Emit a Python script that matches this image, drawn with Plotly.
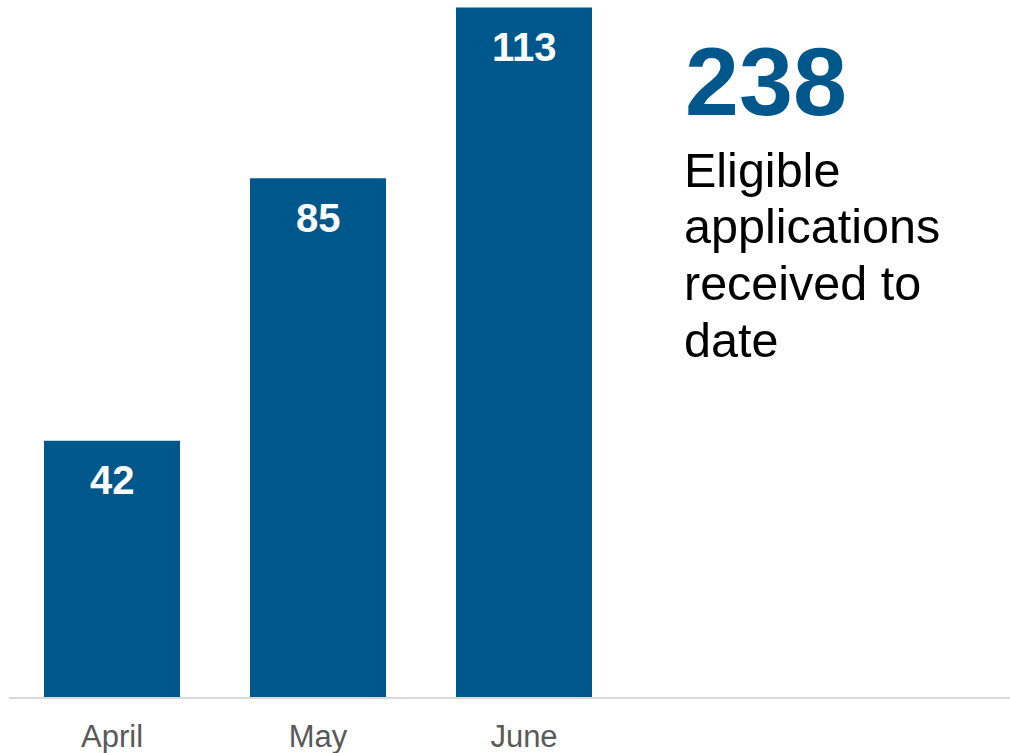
import plotly.graph_objects as go

months = ["April", "May", "June"]
applications = [42, 85, 113]
total_value = "238"
caption_lines = ["Eligible", "applications", "received to", "date"]

BAR_COLOR = "#00578B"
FONT = "Liberation Sans, Arial, sans-serif"

W, H = 1010, 753
ML, MB = 9, 56
PW, PH = W - ML, H - MB
CAT_PX = 206.0
BAR_PX = 136.0

def px_x(p):
    return (p - ML) / PW

def px_y(p):
    return 1 - p / PH

fig = go.Figure()
fig.add_trace(go.Bar(
    x=months, y=applications,
    marker=dict(color=BAR_COLOR, line=dict(width=0)),
    hoverinfo="skip",
))

annotations = []
for m, v in zip(months, applications):
    annotations.append(dict(
        x=m, y=v, xref="x", yref="y", text=f"<b>{v}</b>", showarrow=False,
        xanchor="center", yanchor="middle", yshift=-39.5,
        font=dict(family=FONT, size=40, color="white"),
    ))

annotations.append(dict(
    x=px_x(683), y=px_y(81), xref="paper", yref="paper",
    text=f"<b>{total_value}</b>", showarrow=False,
    xanchor="left", yanchor="middle",
    font=dict(family=FONT, size=97, color=BAR_COLOR),
))
centers = [169.5, 226.2, 282.8, 339.5]
for line, c in zip(caption_lines, centers):
    annotations.append(dict(
        x=px_x(682), y=px_y(c), xref="paper", yref="paper",
        text=line, showarrow=False, xanchor="left", yanchor="middle",
        font=dict(family=FONT, size=48.5, color="black"),
    ))

fig.update_layout(
    width=W, height=H,
    margin=dict(l=ML, r=0, t=0, b=MB, pad=0),
    paper_bgcolor="white", plot_bgcolor="white",
    showlegend=False, bargap=1 - BAR_PX / CAT_PX,
    annotations=annotations,
    xaxis=dict(
        range=[-0.5, -0.5 + PW / CAT_PX], showgrid=False, zeroline=False,
        showline=True, linecolor="#D9D9D9", linewidth=2, ticks="",
        ticklabelstandoff=11,
        tickfont=dict(family=FONT, size=31, color="#595959"),
        fixedrange=True,
    ),
    yaxis=dict(
        range=[0, PH / (689.5 / 113)], visible=False, showgrid=False,
        zeroline=False, fixedrange=True,
    ),
)

fig.write_html("out.html", config={"displayModeBar": False})
